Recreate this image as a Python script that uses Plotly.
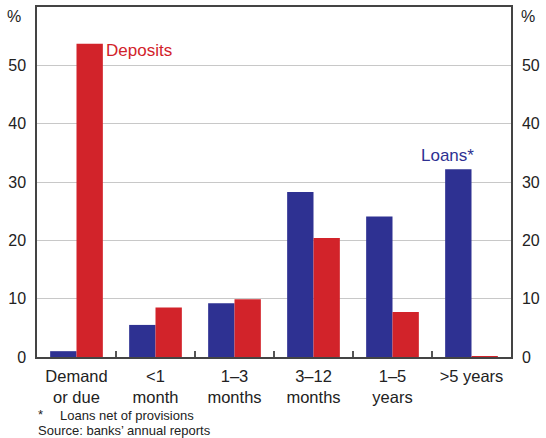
import plotly.graph_objects as go

categories = ["Demand<br>or due", "<1<br>month", "1–3<br>months", "3–12<br>months", "1–5<br>years", ">5 years"]
loans = [1.0, 5.5, 9.2, 28.3, 24.1, 32.2]
deposits = [53.7, 8.5, 9.9, 20.4, 7.7, 0.15]
y_ticks = [0, 10, 20, 30, 40, 50]

BLUE = "#2e3192"
RED = "#d2232a"
FONT = "Liberation Sans, Arial, sans-serif"

fig = go.Figure()
fig.add_trace(go.Bar(x=categories, y=loans, name="Loans*", marker_color=BLUE,
                     marker_line_width=0))
fig.add_trace(go.Bar(x=categories, y=deposits, name="Deposits", marker_color=RED,
                     marker_line_width=0))
# invisible trace to anchor right axis
fig.add_trace(go.Scatter(x=[categories[0]], y=[0], yaxis="y2", mode="markers",
                         marker=dict(opacity=0), showlegend=False, hoverinfo="skip"))

fig.update_layout(
    width=546, height=438,
    margin=dict(l=37, r=35, t=7, b=81, autoexpand=False),
    paper_bgcolor="white", plot_bgcolor="white",
    barmode="group", bargap=0.333, bargroupgap=0,
    showlegend=False,
    font=dict(family=FONT, size=16, color="#222"),
    xaxis=dict(
        type="category", categoryorder="array", categoryarray=categories,
        showline=True, linecolor="#444", linewidth=1.5, mirror=True,
        ticks="inside", tickson="boundaries", ticklen=6, tickcolor="#555", tickwidth=1.5,
        showgrid=False, tickfont=dict(size=16.5, color="#222"), ticklabelstandoff=3,
    ),
    yaxis=dict(
        range=[0, 60], tickvals=y_ticks, ticktext=[str(v) for v in y_ticks],
        showline=True, linecolor="#444", linewidth=1.5,
        showgrid=True, gridcolor="#c8c8c8", gridwidth=1,
        ticks="", ticklabelstandoff=6, zeroline=False,
        tickfont=dict(size=16, color="#222"),
    ),
    yaxis2=dict(
        range=[0, 60], tickvals=y_ticks, ticktext=[str(v) for v in y_ticks],
        overlaying="y", side="right", showline=True, linecolor="#444", linewidth=1.5,
        showgrid=False, ticks="", ticklabelstandoff=6, zeroline=False,
        tickfont=dict(size=16, color="#222"),
    ),
)

annotations = [
    dict(text="%", xref="paper", yref="paper", x=-0.03, y=0.972, xanchor="right",
         yanchor="middle", showarrow=False, font=dict(size=16, color="#222")),
    dict(text="%", xref="paper", yref="paper", x=1.017, y=0.972, xanchor="left",
         yanchor="middle", showarrow=False, font=dict(size=16, color="#222")),
    dict(text="Deposits", xref="paper", yref="y", x=0.142, y=52.6, xanchor="left",
         yanchor="middle", showarrow=False, font=dict(size=17, color=RED)),
    dict(text="Loans*", xref="paper", yref="y", x=0.865, y=34.6, xanchor="center",
         yanchor="middle", showarrow=False, font=dict(size=17, color=BLUE)),
    dict(text="*", xref="paper", yref="paper", x=-0.002, y=-0.165, xanchor="left",
         yanchor="middle", showarrow=False, font=dict(size=13, color="#222")),
    dict(text="Loans net of provisions", xref="paper", yref="paper", x=0.045, y=-0.167,
         xanchor="left", yanchor="middle", showarrow=False, font=dict(size=13, color="#222")),
    dict(text="Source: banks’ annual reports", xref="paper", yref="paper", x=-0.003, y=-0.21,
         xanchor="left", yanchor="middle", showarrow=False, font=dict(size=13, color="#222")),
]
fig.update_layout(annotations=annotations)

fig.write_html("out.html", config={"displayModeBar": False},
               post_script="document.body.style.margin='0';document.body.style.overflow='hidden';")
